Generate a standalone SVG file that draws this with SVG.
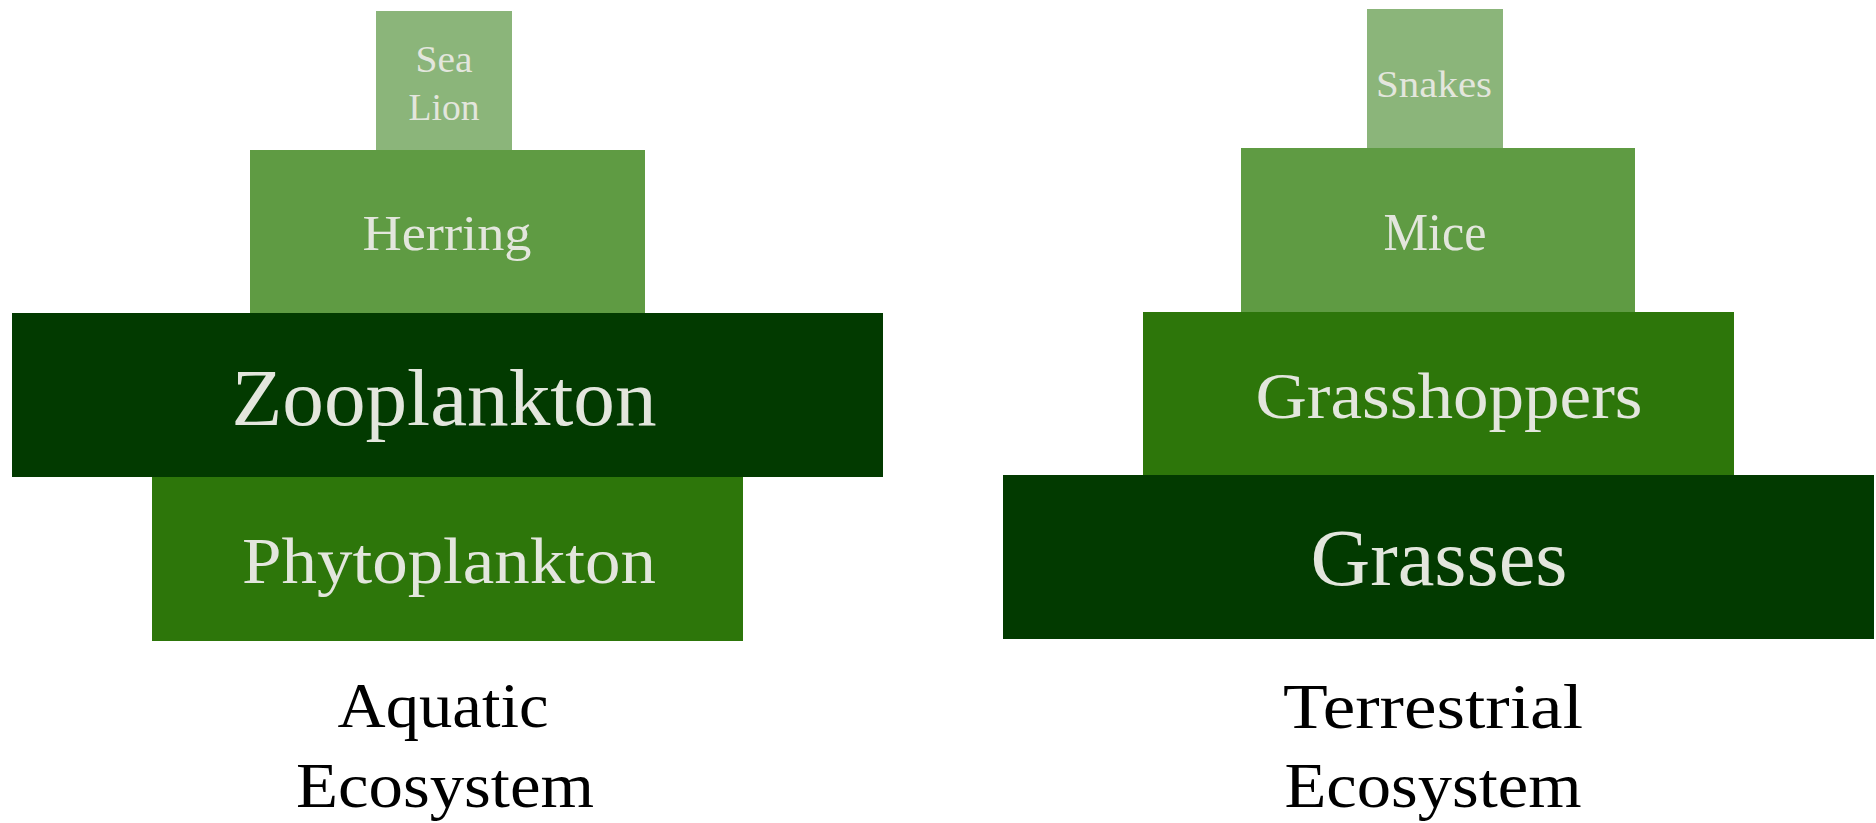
<svg xmlns="http://www.w3.org/2000/svg" width="1876" height="823" viewBox="0 0 1876 823">
  <style>
    .t1 { fill: #8BB57A; }
    .t2 { fill: #5F9B43; }
    .t3 { fill: #2D760A; }
    .t4 { fill: #023A00; }
    .lbl { font-family: "Liberation Serif", "DejaVu Serif", serif; fill: #E3E6DD; text-anchor: middle; }
    .cap { font-family: "Liberation Serif", "DejaVu Serif", serif; fill: #000000; text-anchor: middle; font-size: 64px; }
  </style>
  <rect width="1876" height="823" fill="#FFFFFF"/>

  <!-- Aquatic pyramid -->
  <g id="sea-lion">
    <rect class="t1" x="376" y="11" width="136" height="139"/>
    <text class="lbl" x="444" y="72" font-size="38" textLength="57" lengthAdjust="spacingAndGlyphs">Sea</text>
    <text class="lbl" x="444" y="120" font-size="38" textLength="71" lengthAdjust="spacingAndGlyphs">Lion</text>
  </g>
  <g id="herring">
    <rect class="t2" x="250" y="150" width="395" height="163"/>
    <text class="lbl" x="447" y="250" font-size="50" textLength="169" lengthAdjust="spacingAndGlyphs">Herring</text>
  </g>
  <g id="zooplankton">
    <rect class="t4" x="12" y="313" width="871" height="164"/>
    <text class="lbl" x="444" y="425" font-size="80" textLength="425" lengthAdjust="spacingAndGlyphs">Zooplankton</text>
  </g>
  <g id="phytoplankton">
    <rect class="t3" x="152" y="477" width="591" height="164"/>
    <text class="lbl" x="449" y="583" font-size="65" textLength="414" lengthAdjust="spacingAndGlyphs">Phytoplankton</text>
  </g>
  <g id="aquatic-caption">
    <text class="cap" x="443" y="727" textLength="211" lengthAdjust="spacingAndGlyphs">Aquatic</text>
    <text class="cap" x="445" y="807" textLength="298" lengthAdjust="spacingAndGlyphs">Ecosystem</text>
  </g>

  <!-- Terrestrial pyramid -->
  <g id="snakes">
    <rect class="t1" x="1367" y="9" width="136" height="139"/>
    <text class="lbl" x="1434" y="97" font-size="38" textLength="116" lengthAdjust="spacingAndGlyphs">Snakes</text>
  </g>
  <g id="mice">
    <rect class="t2" x="1241" y="148" width="394" height="164"/>
    <text class="lbl" x="1435" y="250" font-size="52" textLength="103" lengthAdjust="spacingAndGlyphs">Mice</text>
  </g>
  <g id="grasshoppers">
    <rect class="t3" x="1143" y="312" width="591" height="163"/>
    <text class="lbl" x="1449" y="418" font-size="65" textLength="387" lengthAdjust="spacingAndGlyphs">Grasshoppers</text>
  </g>
  <g id="grasses">
    <rect class="t4" x="1003" y="475" width="871" height="164"/>
    <text class="lbl" x="1439" y="585" font-size="80" textLength="257" lengthAdjust="spacingAndGlyphs">Grasses</text>
  </g>
  <g id="terrestrial-caption">
    <text class="cap" x="1433" y="728" textLength="300" lengthAdjust="spacingAndGlyphs">Terrestrial</text>
    <text class="cap" x="1433" y="807" textLength="297" lengthAdjust="spacingAndGlyphs">Ecosystem</text>
  </g>
</svg>
